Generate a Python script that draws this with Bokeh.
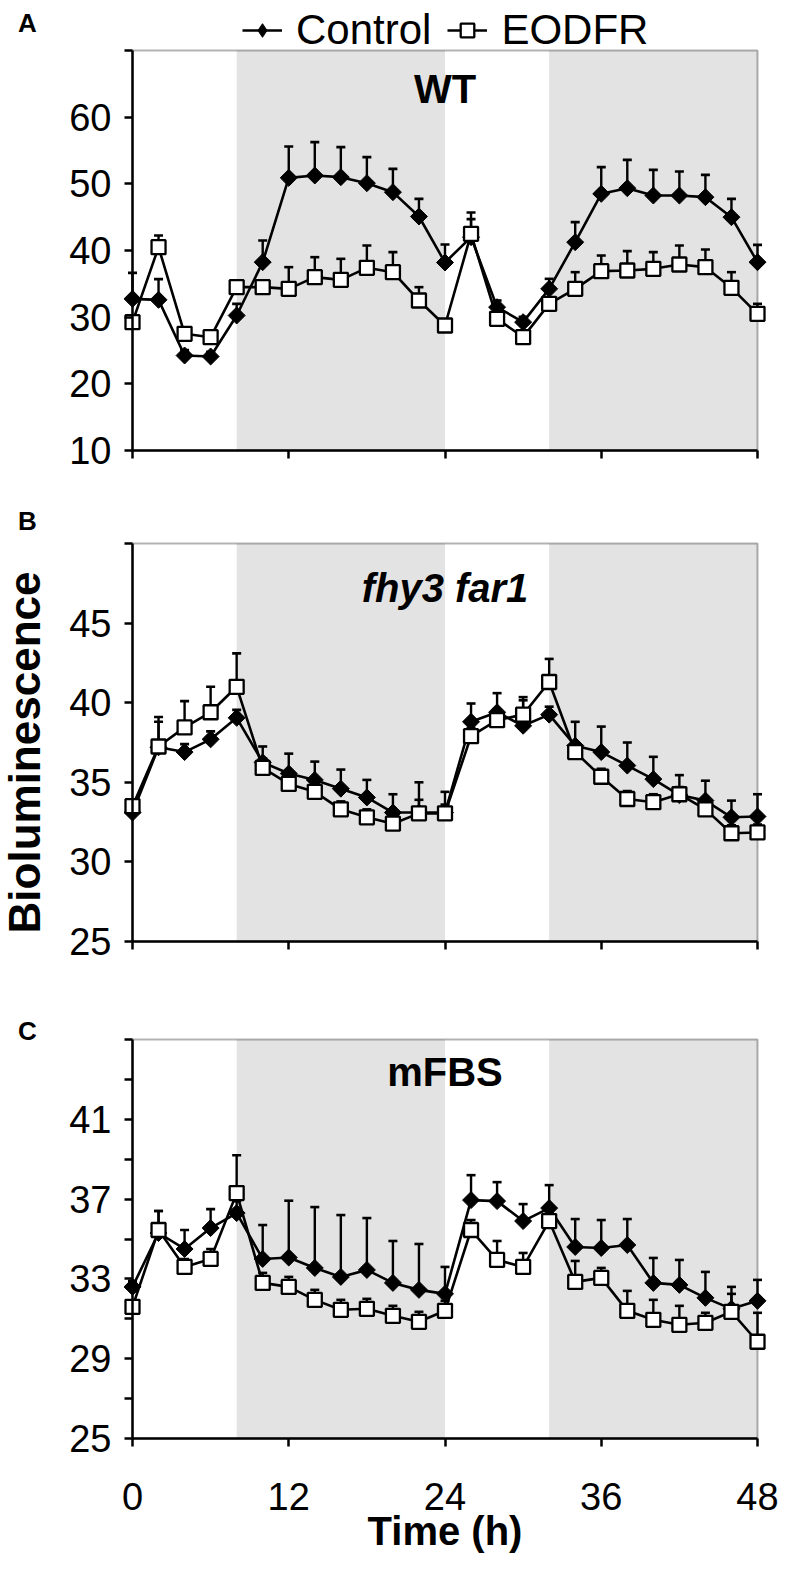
import numpy as np
from bokeh.plotting import figure
from bokeh.layouts import column
from bokeh.models import (BoxAnnotation, Label, FixedTicker, Legend, LegendItem,
                          ColumnDataSource, Range1d)
from bokeh.embed import file_html
from bokeh.resources import INLINE

# ---------------- data ----------------
time_h = list(range(0, 49, 2))
x_ticks = [0, 12, 24, 36, 48]
dark_periods = [(8, 24), (32, 48)]
series_names = ["Control", "EODFR"]

# Panel A: WT
wt_control = [32.75, 32.6, 24.25, 24.1, 30.25, 38.25, 50.9, 51.25, 51.0, 50.1, 48.75, 45.1, 38.2,
              42.0, 31.5, 29.25, 34.25, 41.25, 48.5, 49.35, 48.25, 48.25, 48.0, 45.0, 38.25]
wt_control_err = [3.9, 3.1, 0.8, 0.7, 1.75, 3.25, 4.7, 5.0, 4.5, 3.9, 3.5, 2.65, 2.7,
                  2.7, 1.0, 0.8, 1.5, 3.0, 4.0, 4.25, 3.85, 3.6, 3.35, 2.75, 2.6]
wt_eodfr = [29.25, 40.5, 27.5, 27.0, 34.5, 34.5, 34.25, 36.0, 35.6, 37.4, 36.75, 32.5, 28.75,
            42.5, 29.75, 27.0, 32.0, 34.25, 36.9, 37.0, 37.25, 37.9, 37.5, 34.4, 30.5]
wt_eodfr_err = [0.6, 1.75, 0.5, 0.5, 0.5, 1.0, 3.25, 3.0, 3.15, 3.35, 3.0, 2.0, 0.7,
                3.2, 0.6, 0.5, 0.6, 2.5, 2.35, 2.9, 2.5, 2.85, 2.65, 2.35, 1.5]

# Panel B: fhy3 far1
ff_control = [33.1, 37.2, 36.9, 37.7, 39.05, 36.25, 35.55, 35.15, 34.6, 34.05, 33.1, 33.1, 33.1,
              38.8, 39.4, 38.55, 39.25, 37.3, 36.9, 36.05, 35.2, 34.2, 33.85, 32.8, 32.85]
ff_control_err = [0.3, 1.9, 0.5, 0.5, 0.5, 1.0, 1.25, 1.15, 1.2, 1.1, 1.15, 0.8, 0.5,
                  1.15, 1.2, 1.6, 0.5, 1.5, 1.6, 1.45, 1.4, 0.5, 1.25, 1.05, 1.4]
ff_eodfr = [33.5, 37.25, 38.45, 39.4, 41.0, 35.9, 34.9, 34.4, 33.3, 32.8, 32.4, 33.05, 33.05,
            37.9, 38.9, 39.25, 41.3, 36.9, 35.35, 33.95, 33.75, 34.25, 33.3, 31.8, 31.85]
ff_eodfr_err = [0.3, 1.55, 1.65, 1.6, 2.1, 0.6, 0.5, 0.5, 0.5, 0.5, 0.5, 1.95, 1.35,
                0.5, 0.5, 1.1, 1.45, 0.5, 0.5, 0.5, 0.5, 1.2, 0.5, 0.5, 0.5]

# Panel C: mFBS
mf_control = [32.6, 35.3, 34.5, 35.55, 36.3, 34.0, 34.07, 33.55, 33.1, 33.45, 32.8, 32.45, 32.25,
              36.95, 36.9, 35.9, 36.55, 34.6, 34.55, 34.7, 32.8, 32.7, 32.05, 31.5, 31.9]
mf_control_err = [0.3, 1.1, 0.95, 0.95, 0.6, 1.7, 2.85, 3.05, 3.1, 2.6, 2.1, 2.3, 1.35,
                  1.25, 0.95, 0.85, 1.15, 1.4, 1.4, 1.3, 1.25, 1.25, 1.3, 1.1, 1.05]
mf_eodfr = [31.6, 35.45, 33.6, 34.0, 37.3, 32.8, 32.6, 31.95, 31.45, 31.5, 31.15, 30.85, 31.4,
            35.45, 33.95, 33.6, 35.9, 32.85, 33.05, 31.4, 30.95, 30.7, 30.8, 31.35, 29.85]
mf_eodfr_err = [0.3, 0.95, 0.4, 0.5, 1.9, 0.5, 0.5, 0.5, 0.5, 0.5, 0.5, 0.5, 0.5,
                0.5, 0.95, 0.7, 0.5, 1.05, 0.5, 1.0, 1.0, 0.95, 0.5, 0.9, 1.45]

a_major = [10, 20, 30, 40, 50, 60]
a_minor = [70]
b_major = [25, 30, 35, 40, 45]
b_minor = [50]
c_major = [25, 29, 33, 37, 41]
c_minor = [27, 31, 35, 39, 43, 45]

# ---------------- styling / layout ----------------
FONT = "Liberation Sans"
GRAY = "#e3e3e3"
W = 785
X0_PX, X48_PX = 132, 757            # page x of t=0 and t=48
PX_PER_H = (X48_PX - X0_PX) / 48.0
LW = 2.6


def make_panel(fig_top, fig_h, top_px, axis_px, vmin, vmax, major, minor,
               ctrl, ctrl_err, eod, eod_err, title, title_page_y, title_style,
               letter, letter_page_y, show_x_labels):
    scale = (axis_px - top_px) / (vmax - vmin)
    y_lo = vmin - (fig_top + fig_h - axis_px) / scale
    y_hi = vmax + (top_px - fig_top) / scale
    x_lo = -X0_PX / PX_PER_H
    x_hi = 48 + (W - X48_PX) / PX_PER_H
    fig_bottom = fig_top + fig_h

    p = figure(width=W, height=fig_h, x_range=Range1d(x_lo, x_hi), y_range=Range1d(y_lo, y_hi),
               output_backend="svg", toolbar_location=None, title=None,
               min_border_left=0, min_border_right=0, min_border_top=0, min_border_bottom=0)
    p.grid.visible = False
    p.outline_line_color = None
    p.background_fill_color = "white"
    p.border_fill_color = "white"

    for a, b in dark_periods:
        p.add_layout(BoxAnnotation(left=a, right=b, bottom=vmin, top=vmax, fill_color=GRAY,
                                   fill_alpha=1, line_alpha=0, level="underlay"))
    p.add_layout(BoxAnnotation(left=0, right=48, bottom=vmin, top=vmax, fill_alpha=0,
                               line_color="black", line_width=2, level="underlay"))

    for ax in (p.xaxis[0], p.yaxis[0]):
        ax.axis_line_width = 2.5
        ax.axis_line_color = "black"
        ax.major_tick_line_width = 2.5
        ax.major_tick_line_color = "black"
        ax.minor_tick_line_width = 2.5
        ax.minor_tick_line_color = "black"
        ax.major_tick_out = 8
        ax.major_tick_in = 0
        ax.minor_tick_out = 8
        ax.minor_tick_in = 0
        ax.major_label_text_font = FONT
        ax.major_label_text_font_size = "38px"
        ax.major_label_text_color = "black"

    p.yaxis.fixed_location = 0
    p.yaxis.bounds = (vmin, vmax)
    p.yaxis.ticker = FixedTicker(ticks=major, minor_ticks=minor)
    p.yaxis.major_label_standoff = 13

    p.xaxis.fixed_location = vmin
    p.xaxis.bounds = (0, 48)
    p.xaxis.ticker = FixedTicker(ticks=x_ticks, minor_ticks=[])
    p.xaxis.major_label_standoff = 36
    if not show_x_labels:
        p.xaxis.major_label_text_color = None

    srcs = {}
    for name, vals, errs in ((series_names[0], ctrl, ctrl_err), (series_names[1], eod, eod_err)):
        src = ColumnDataSource(dict(t=time_h, y=vals, top=[v + e for v, e in zip(vals, errs)]))
        p.segment(x0="t", y0="y", x1="t", y1="top", source=src, line_color="black", line_width=2.4)
        p.scatter(x="t", y="top", source=src, marker="dash", size=9, line_color="black",
                  line_width=2.6)
        srcs[name] = src

    lc = p.line(x="t", y="y", source=srcs["Control"], line_color="black", line_width=LW)
    le = p.line(x="t", y="y", source=srcs["EODFR"], line_color="black", line_width=LW)
    p.scatter(x="t", y="y", source=srcs["Control"], marker="square", angle=np.pi / 4,
              size=12, fill_color="black", line_color="black", line_width=1)
    me = p.scatter(x="t", y="y", source=srcs["EODFR"], marker="square", size=14,
                   fill_color="white", line_color="black", line_width=2.3)

    p.add_layout(Label(x=24, y=fig_bottom - title_page_y, y_units="screen", text=title,
                       text_font=FONT, text_font_size="40px", text_font_style=title_style,
                       text_align="center", text_baseline="middle", text_color="black"))
    p.add_layout(Label(x=27, y=fig_bottom - letter_page_y, x_units="screen", y_units="screen",
                       text=letter, text_font=FONT, text_font_size="26px",
                       text_font_style="bold", text_align="center", text_baseline="middle",
                       text_color="black"))
    return p, (lc, le, me), fig_bottom


p1, (lc, le, me), b1 = make_panel(0, 498, 50, 450, 10, 70, a_major, a_minor,
                                  wt_control, wt_control_err, wt_eodfr, wt_eodfr_err,
                                  "WT", 88, "bold", "A", 22, False)
# key-only diamond: a single NaN point (never drawn in the plot) so the legend shows a diamond
key_src = ColumnDataSource(dict(x=[np.nan], y=[np.nan]))
leg_diamond = p1.scatter(x="x", y="y", source=key_src, marker="diamond", fill_color="black",
                         line_color="black", line_width=1)
legend = Legend(items=[LegendItem(label=series_names[0], renderers=[lc, leg_diamond]),
                       LegendItem(label=series_names[1], renderers=[le, me])],
                location=(242, b1 - 54), orientation="horizontal",
                label_text_font=FONT, label_text_font_size="42px", label_text_color="black",
                glyph_width=40, glyph_height=34, label_standoff=14, spacing=16,
                padding=0, margin=0, border_line_alpha=0, background_fill_alpha=0)
p1.add_layout(legend)

p2, _, b2 = make_panel(498, 490, 543, 941, 25, 50, b_major, b_minor,
                       ff_control, ff_control_err, ff_eodfr, ff_eodfr_err,
                       "fhy3 far1", 587, "bold italic", "B", 520, False)
p2.add_layout(Label(x=24, y=b2 - 752, x_units="screen", y_units="screen", text="Bioluminescence",
                    angle=np.pi / 2, text_font=FONT, text_font_size="44px",
                    text_font_style="bold", text_align="center", text_baseline="middle",
                    text_color="black"))

p3, _, b3 = make_panel(988, 580, 1039, 1438, 25, 45, c_major, c_minor,
                       mf_control, mf_control_err, mf_eodfr, mf_eodfr_err,
                       "mFBS", 1071, "bold", "C", 1030, True)
p3.add_layout(Label(x=24, y=b3 - 1530, y_units="screen", text="Time (h)", text_font=FONT,
                    text_font_size="40px", text_font_style="bold", text_align="center",
                    text_baseline="middle", text_color="black"))

layout = column(p1, p2, p3, spacing=0)
open("out.html", "w").write(file_html(layout, INLINE))
